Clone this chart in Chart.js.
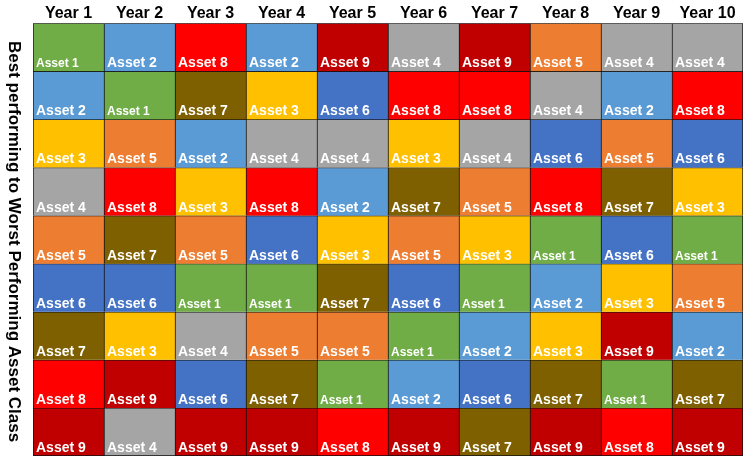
<!DOCTYPE html>
<html>
<head>
<meta charset="utf-8">
<style>
  html, body { margin: 0; padding: 0; background: #fff; }
  #wrap { width: 750px; height: 465px; }
</style>
</head>
<body>
<div id="wrap"><canvas id="chart"></canvas></div>
<script src="https://cdn.jsdelivr.net/npm/chart.js@4.4.1/dist/chart.umd.min.js"></script>
<script>
const years = ['Year 1','Year 2','Year 3','Year 4','Year 5','Year 6','Year 7','Year 8','Year 9','Year 10'];
const assetNames = ['Asset 1','Asset 2','Asset 3','Asset 4','Asset 5','Asset 6','Asset 7','Asset 8','Asset 9'];
const assetColors = ['#70AD47','#5B9BD5','#FFC000','#A5A5A5','#ED7D31','#4472C4','#7F6000','#FF0000','#C00000'];

// asset number held at each rank (best first), one entry per year
const rank1 = [1,2,8,2,9,4,9,5,4,4];
const rank2 = [2,1,7,3,6,8,8,4,2,8];
const rank3 = [3,5,2,4,4,3,4,6,5,6];
const rank4 = [4,8,3,8,2,7,5,8,7,3];
const rank5 = [5,7,5,6,3,5,3,1,6,1];
const rank6 = [6,6,1,1,7,6,1,2,3,5];
const rank7 = [7,3,4,5,5,1,2,3,9,2];
const rank8 = [8,9,6,7,1,2,6,7,1,7];
const rank9 = [9,4,9,9,8,9,7,9,8,9];
const ranks = [rank1, rank2, rank3, rank4, rank5, rank6, rank7, rank8, rank9];

const yTitle = 'Best performing to Worst Performing Asset Class';

const datasets = ranks.map((row, r) => ({
  label: 'Rank ' + (r + 1),
  data: years.map(() => 1),
  assets: row,
  backgroundColor: row.map(a => assetColors[a - 1]),
  borderColor: '#111',
  borderSkipped: false,
  borderWidth: ctx => ({ top: 1, left: 1, right: ctx.dataIndex === years.length - 1 ? 1 : 0, bottom: r === ranks.length - 1 ? 1 : 0 }),
  stack: 'ranks',
  barPercentage: 1,
  categoryPercentage: 1
}));

const cellLabels = {
  id: 'cellLabels',
  afterDatasetsDraw(chart) {
    const ctx = chart.ctx;
    ctx.save();
    ctx.fillStyle = '#fff';
    ctx.textAlign = 'left';
    ctx.textBaseline = 'alphabetic';
    chart.data.datasets.forEach((ds, i) => {
      chart.getDatasetMeta(i).data.forEach((bar, j) => {
        const a = ds.assets[j];
        const p = bar.getProps(['x', 'y', 'base', 'width'], true);
        const left = p.x - p.width / 2;
        const bottom = Math.max(p.y, p.base);
        ctx.font = a === 1 ? 'bold 12px "Liberation Sans", Arial, sans-serif' : 'bold 14px "Liberation Sans", Arial, sans-serif';
        ctx.fillText(assetNames[a - 1], left + 3, bottom - 4);
      });
    });
    ctx.restore();
  }
};

const sideTitle = {
  id: 'sideTitle',
  afterDraw(chart) {
    const ctx = chart.ctx;
    const area = chart.chartArea;
    ctx.save();
    ctx.translate(14, (area.top + area.bottom) / 2 + 2);
    ctx.rotate(Math.PI / 2);
    ctx.font = 'bold 17px "Liberation Sans", Arial, sans-serif';
    ctx.fillStyle = '#000';
    ctx.textAlign = 'center';
    ctx.textBaseline = 'middle';
    ctx.fillText(yTitle, 0, 0);
    ctx.restore();
  }
};

new Chart(document.getElementById('chart'), {
  type: 'bar',
  data: { labels: years, datasets },
  options: {
    responsive: true,
    maintainAspectRatio: false,
    animation: false,
    layout: { padding: { left: 33, right: 7, bottom: 9, top: 4 } },
    plugins: { legend: { display: false }, tooltip: { enabled: false } },
    scales: {
      x: {
        position: 'top',
        grid: { display: false, drawTicks: false },
        border: { display: false },
        ticks: { color: '#000', padding: 0, font: { family: '"Liberation Sans", Arial, sans-serif', size: 16, weight: 'bold' } }
      },
      y: { stacked: true, reverse: true, min: 0, max: 9, display: false }
    }
  },
  plugins: [cellLabels, sideTitle]
});
</script>
</body>
</html>
